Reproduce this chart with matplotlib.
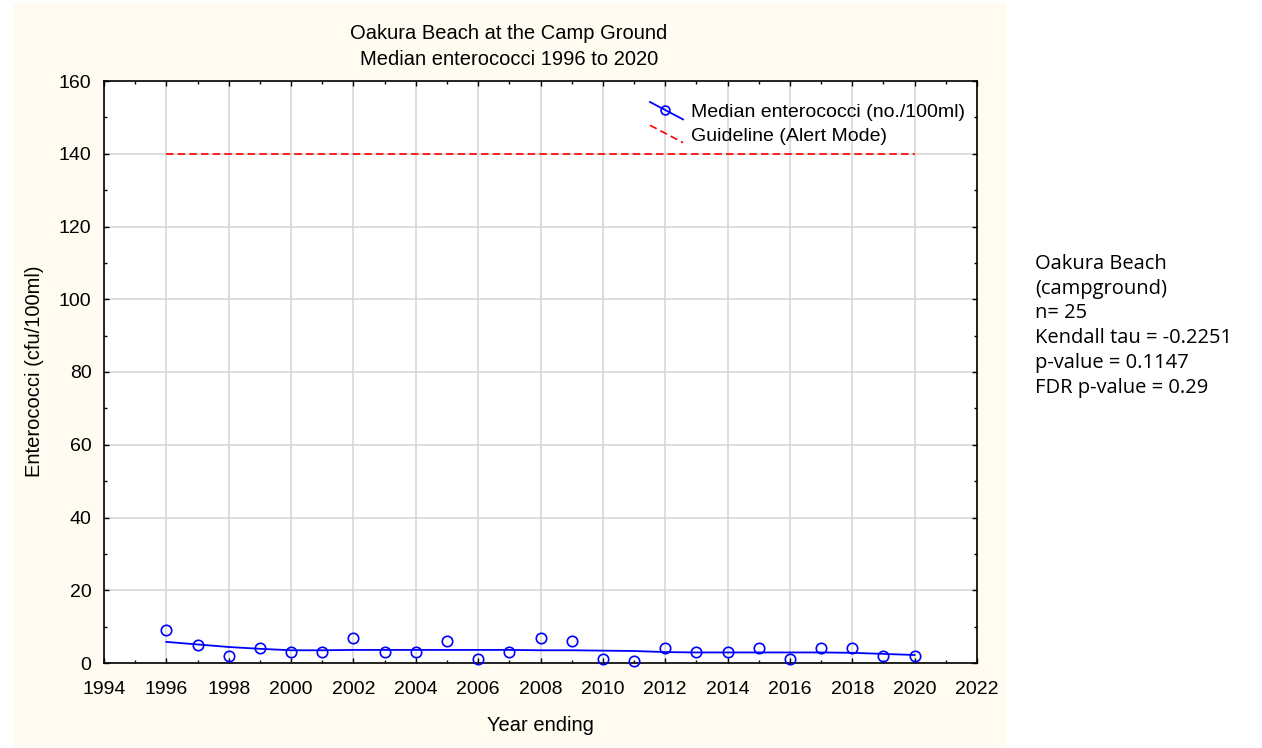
import matplotlib
matplotlib.use('Agg')
import matplotlib.pyplot as plt
from matplotlib.lines import Line2D
from matplotlib.patches import Rectangle
from matplotlib.legend_handler import HandlerBase
from matplotlib.ticker import MultipleLocator

# Median enterococci per year ending (cfu/100ml)
years = list(range(1996, 2021))
median = [9, 5, 2, 4, 3, 3, 7, 3, 3, 6, 1, 3, 7, 6, 1, 0.5, 4, 3, 3, 4, 1, 4, 4, 2, 2]
# smoothed trend drawn through the medians
trend = [5.8, 5.1, 4.4, 3.9, 3.5, 3.5, 3.6, 3.6, 3.6, 3.6, 3.6, 3.6, 3.5,
         3.5, 3.4, 3.3, 3.0, 2.9, 2.9, 2.9, 2.9, 2.9, 2.8, 2.5, 2.2]
guideline = 140
guide_years = [1996, 2020]

title_lines = ["Oakura Beach at the Camp Ground", "Median enterococci 1996 to 2020"]
stats_lines = ["Oakura Beach", "(campground)", "n= 25", "Kendall tau = -0.2251",
               "p-value = 0.1147", "FDR p-value = 0.29"]

W, H = 1262, 748
BLUE = '#0000ff'
CREAM = '#fffbf0'
FONT = 'Liberation Sans'


class DiagonalHandler(HandlerBase):
    # Statistica style legend key: a slanted line with the marker on it
    def create_artists(self, legend, orig, xdescent, ydescent, width, height, fontsize, trans):
        x0, y0 = -xdescent, -ydescent
        line = Line2D([x0, x0 + width], [y0 + height, y0])
        line.update_from(orig)
        line.set_marker('None')
        line.set_transform(trans)
        arts = [line]
        if orig.get_marker() not in (None, 'None', '', ' '):
            mk = Line2D([x0 + 0.45 * width], [y0 + 0.55 * height])
            mk.update_from(orig)
            mk.set_linestyle('None')
            mk.set_markersize(orig.get_markersize() * 0.85)
            mk.set_transform(trans)
            arts.append(mk)
        return arts


fig = plt.figure(figsize=(W / 100, H / 100), dpi=100, facecolor='white')
fig.patches.append(Rectangle((13 / W, 1 / H), 993 / W, 744 / H, transform=fig.transFigure,
                             facecolor=CREAM, edgecolor='none', zorder=-10))

ax = fig.add_axes([104 / W, (H - 663) / H, (977 - 104) / W, (663 - 81) / H])
ax.set_facecolor('white')

ax.plot(guide_years, [guideline, guideline], color='red', lw=1.2,
        linestyle=(0, (4.5, 2.5)), zorder=3)
ax.plot(years, trend, color=BLUE, lw=1.3, zorder=4)
ax.plot(years, median, linestyle='none', marker='o', ms=7.5, mfc='none',
        mec=BLUE, mew=1.2, zorder=5, clip_on=False)

ax.set_xlim(1994, 2022)
ax.set_ylim(0, 160)
ax.xaxis.set_major_locator(MultipleLocator(2))
ax.xaxis.set_minor_locator(MultipleLocator(1))
ax.yaxis.set_major_locator(MultipleLocator(20))
ax.yaxis.set_minor_locator(MultipleLocator(10))
ax.grid(True, which='major', color='#d4d4d4', lw=1.1, zorder=0)
ax.set_axisbelow(True)
ax.tick_params(which='both', direction='in', top=True, right=True, color='black', width=1.0)
ax.tick_params(which='major', length=3.3)
ax.tick_params(which='minor', length=2.0)
ax.tick_params(axis='x', which='major', pad=13, labelsize=14)
ax.tick_params(axis='y', which='major', pad=9, labelsize=14)
for lab in ax.get_xticklabels() + ax.get_yticklabels():
    lab.set_fontfamily(FONT)
for sp in ax.spines.values():
    sp.set_linewidth(1.2)
    sp.set_color('black')

handles = [Line2D([], [], color=BLUE, lw=1.3, marker='o', ms=7.5, mfc='none', mec=BLUE, mew=1.2),
           Line2D([], [], color='red', lw=1.2, linestyle=(0, (4.5, 2.5)))]
labels = ["Median enterococci (no./100ml)", "Guideline (Alert Mode)"]
ax.legend(handles, labels, loc='upper left', bbox_to_anchor=(650 / W, 1 - 102 / H),
          bbox_transform=fig.transFigure, frameon=False, borderpad=0, borderaxespad=0,
          handlelength=1.7, handleheight=1.0, handletextpad=0.4, labelspacing=0.2,
          prop={'family': FONT, 'size': 14},
          handler_map={Line2D: DiagonalHandler()})

# titles and axis labels
for i, t in enumerate(title_lines):
    fig.text(509 / W, 1 - (39 + 26 * i) / H, t, ha='center', va='baseline',
             fontsize=14.5, family=FONT)
fig.text(540 / W, 1 - 731 / H, "Year ending", ha='center', va='baseline', fontsize=14.5, family=FONT)
fig.text(35 / W, 1 - 371 / H, "Enterococci (cfu/100ml)", ha='center', va='center',
         rotation=90, fontsize=14.5, family=FONT)

# statistics panel on the right
for i, t in enumerate(stats_lines):
    fig.text(1035 / W, 1 - (269 + 24.7 * i) / H, t, ha='left', va='baseline',
             fontsize=14.5, family='Open Sans')

fig.savefig('out.png', dpi=100, facecolor='white')
